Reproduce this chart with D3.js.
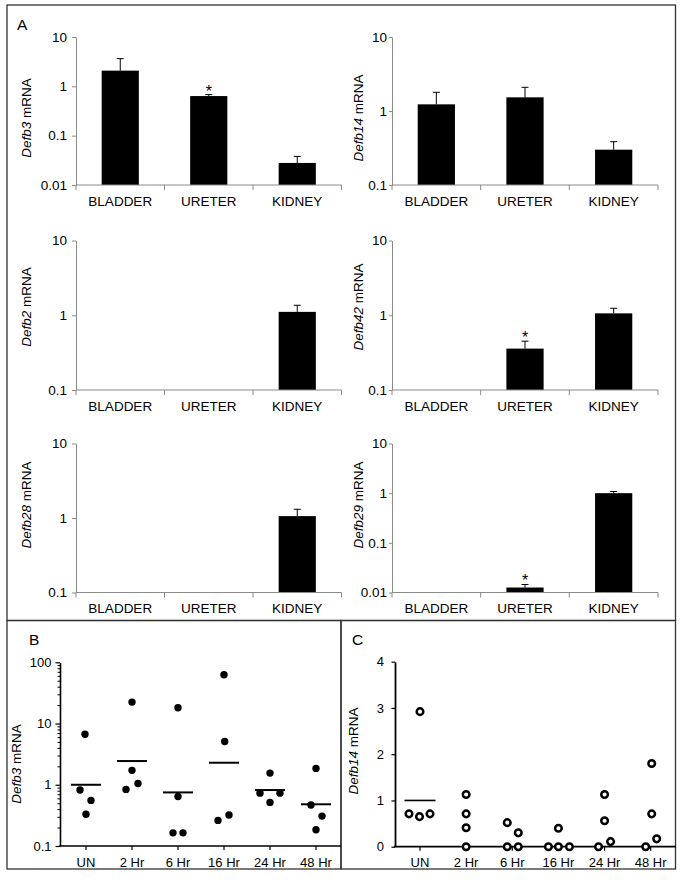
<!DOCTYPE html>
<html><head><meta charset="utf-8">
<script src="https://cdn.jsdelivr.net/npm/d3@7"></script>
<style>
body{margin:0;background:#fff}
svg{display:block}
text{font-family:"Liberation Sans",Arial,Helvetica,sans-serif;fill:#000}
</style>
</head><body>
<svg id="chart" width="683" height="884"></svg>
<script>
// ---------------- DATA ----------------
// Panel A: relative expression (log scale), mean and top of error bar
const categoriesA = ["BLADDER", "URETER", "KIDNEY"];
const genesA = ["Defb3", "Defb14", "Defb2", "Defb42", "Defb28", "Defb29"];
const meanA = [
  [2.08, 0.635, 0.028],
  [1.23, 1.53, 0.30],
  [null, null, 1.11],
  [null, 0.358, 1.06],
  [null, null, 1.06],
  [null, 0.0126, 1.0]
];
const errTopA = [
  [3.64, 0.68, 0.038],
  [1.79, 2.09, 0.385],
  [null, null, 1.36],
  [null, 0.45, 1.24],
  [null, null, 1.31],
  [null, 0.0145, 1.08]
];
const starA = [
  [0, 1, 0],
  [0, 0, 0],
  [0, 0, 0],
  [0, 1, 0],
  [0, 0, 0],
  [0, 1, 0]
];
const yMinA = [0.01, 0.1, 0.1, 0.1, 0.1, 0.01];
const yMaxA = 10;
const logTickLabels = {"0.01": "0.01", "0.1": "0.1", "1": "1", "10": "10", "100": "100"};

// Panel B / C: time course
const timepoints = ["UN", "2 Hr", "6 Hr", "16 Hr", "24 Hr", "48 Hr"];
const defb3B = [
  [6.7, 0.82, 0.556, 0.33],
  [22.4, 1.72, 0.84, 1.05],
  [18.1, 0.645, 0.164, 0.164],
  [62.7, 5.1, 0.262, 0.32],
  [1.55, 0.73, 0.73, 0.515],
  [1.85, 0.466, 0.308, 0.184]
];
const defb3BMean = [1.0, 2.44, 0.75, 2.29, 0.82, 0.48];
const ticksB = [0.1, 1, 10, 100];

const defb14C = [
  [2.92, 0.71, 0.65, 0.71],
  [1.13, 0.71, 0.41, 0],
  [0.52, 0.30, 0, 0],
  [0.40, 0, 0, 0],
  [1.13, 0.56, 0, 0.11],
  [1.80, 0.71, 0, 0.17]
];
const defb14CMean = [1.0, null, null, null, null, null];
const ticksC = [0, 1, 2, 3, 4];

// ---------------- LAYOUT ----------------
const svg = d3.select("#chart");
const FS = 13.5;
const GREY = "#8a8a8a";

// panel borders
const borderG = svg.append("g").attr("fill", "none").attr("stroke", "#333").attr("stroke-width", 1.3);
borderG.append("rect").attr("x", 7).attr("y", 5).attr("width", 668.5).attr("height", 615.5);
borderG.append("rect").attr("x", 7).attr("y", 620.5).attr("width", 334).attr("height", 248.5);
borderG.append("rect").attr("x", 341).attr("y", 620.5).attr("width", 334.5).attr("height", 248.5);

svg.append("text").attr("x", 17).attr("y", 30).attr("font-size", 15.5).text("A");
svg.append("text").attr("x", 29).attr("y", 645).attr("font-size", 15.5).text("B");
svg.append("text").attr("x", 352).attr("y", 645).attr("font-size", 15.5).text("C");

function yLabel(g, x, y, gene) {
  const t = g.append("text")
    .attr("transform", `translate(${x},${y}) rotate(-90)`)
    .attr("text-anchor", "middle").attr("font-size", FS);
  t.append("tspan").attr("font-style", "italic").text(gene);
  t.append("tspan").text(" mRNA");
}

// ---------------- PANEL A ----------------
const colX = [[76, 341.5], [392, 658]];
const rowY = [[37, 185], [240.5, 390], [443.5, 592.5]];
const labelX = [31, 363];
const labelY = [118, 307, 505];
const tickSizeCol = [4, 3];
const tickPadCol = [5, 2];

genesA.forEach((gene, i) => {
  const col = i % 2, row = Math.floor(i / 2);
  const [x0, x1] = colX[col];
  const [y0, y1] = rowY[row];
  const g = svg.append("g");
  const x = d3.scaleBand().domain(categoriesA).range([x0, x1]);
  const y = d3.scaleLog().domain([yMinA[i], yMaxA]).range([y1, y0]);
  const decades = [0.01, 0.1, 1, 10].filter(v => v >= yMinA[i] - 1e-9);

  // bars
  const barW = x.bandwidth() * 0.42;
  categoriesA.forEach((c, j) => {
    const m = meanA[i][j];
    if (m == null) return;
    const cx = x(c) + x.bandwidth() / 2;
    g.append("rect").attr("x", cx - barW / 2).attr("y", y(m))
      .attr("width", barW).attr("height", y1 - y(m)).attr("fill", "#000");
    const e = errTopA[i][j];
    g.append("line").attr("x1", cx).attr("x2", cx).attr("y1", y(m)).attr("y2", y(e))
      .attr("stroke", "#000").attr("stroke-width", 1);
    g.append("line").attr("x1", cx - 3.5).attr("x2", cx + 3.5).attr("y1", y(e)).attr("y2", y(e))
      .attr("stroke", "#000").attr("stroke-width", 1);
    if (starA[i][j]) {
      g.append("text").attr("x", cx).attr("y", y(e) + 2).attr("text-anchor", "middle")
        .attr("font-size", 16).text("*");
    }
  });

  // y axis
  const ya = g.append("g").attr("transform", `translate(${x0},0)`)
    .call(d3.axisLeft(y).tickValues(decades).tickFormat(d => logTickLabels[String(d)])
      .tickSize(tickSizeCol[col]).tickSizeOuter(0).tickPadding(tickPadCol[col]));
  ya.select(".domain").attr("stroke", GREY);
  ya.selectAll(".tick line").attr("stroke", GREY);
  ya.selectAll(".tick text").attr("font-size", FS).attr("font-family", null).attr("fill", "#000");

  // x axis
  g.append("line").attr("x1", x0).attr("x2", x1).attr("y1", y1).attr("y2", y1).attr("stroke", GREY);
  const bounds = categoriesA.map(c => x(c)).concat([x1]);
  bounds.forEach(b => {
    g.append("line").attr("x1", b).attr("x2", b).attr("y1", y1).attr("y2", y1 + 5).attr("stroke", GREY);
  });
  categoriesA.forEach(c => {
    g.append("text").attr("x", x(c) + x.bandwidth() / 2).attr("y", y1 + 20.5)
      .attr("text-anchor", "middle").attr("font-size", FS).text(c);
  });

  yLabel(g, labelX[col], labelY[row], gene);
});

// ---------------- PANEL B ----------------
(function () {
  const g = svg.append("g");
  const ax = 60, xEnd = 341, yb = 846, yt = 662.3;
  const x = d3.scalePoint().domain(timepoints).range([86, 316]);
  const y = d3.scaleLog().domain([0.1, 100]).range([yb, yt]);
  const offs = [[-1, -6, 5, 0], [0, 0, -6, 6], [0, 0, -5, 5], [0, 0.7, -6, 5], [0, -10, 10, 0], [0, -5, 6, 0]];

  // minor ticks
  const minor = [];
  [0.1, 1, 10].forEach(d => { for (let k = 2; k <= 9; k++) minor.push(k * d); });
  const ym = g.append("g").attr("transform", `translate(${ax},0)`)
    .call(d3.axisLeft(y).tickValues(minor).tickFormat("").tickSize(2.5).tickSizeOuter(0));
  ym.select(".domain").remove();
  ym.selectAll("line").attr("stroke", "#000").attr("stroke-width", 1);

  const ya = g.append("g").attr("transform", `translate(${ax},0)`)
    .call(d3.axisLeft(y).tickValues(ticksB).tickFormat(d => logTickLabels[String(d)])
      .tickSize(4.5).tickSizeOuter(0).tickPadding(4));
  ya.select(".domain").attr("stroke", "#000").attr("stroke-width", 1.6);
  ya.selectAll(".tick line").attr("stroke", "#000").attr("stroke-width", 1.2);
  ya.selectAll(".tick text").attr("font-size", 13).attr("font-family", null).attr("fill", "#000");

  g.append("line").attr("x1", ax - 0.8).attr("x2", xEnd).attr("y1", yb).attr("y2", yb)
    .attr("stroke", "#000").attr("stroke-width", 1.6);
  timepoints.forEach(t => {
    g.append("line").attr("x1", x(t)).attr("x2", x(t)).attr("y1", yb).attr("y2", yb + 4)
      .attr("stroke", "#000").attr("stroke-width", 1.2);
    g.append("text").attr("x", x(t)).attr("y", 867).attr("text-anchor", "middle")
      .attr("font-size", 13).text(t);
  });

  timepoints.forEach((t, i) => {
    defb3B[i].forEach((v, k) => {
      g.append("circle").attr("cx", x(t) + offs[i][k]).attr("cy", y(v)).attr("r", 3.7).attr("fill", "#000");
    });
    const m = defb3BMean[i];
    if (m != null) {
      g.append("line").attr("x1", x(t) - 15).attr("x2", x(t) + 15).attr("y1", y(m)).attr("y2", y(m))
        .attr("stroke", "#000").attr("stroke-width", 2);
    }
  });
  yLabel(g, 21, 764, "Defb3");
})();

// ---------------- PANEL C ----------------
(function () {
  const g = svg.append("g");
  const ax = 395, xEnd = 676, yb = 846.7, yt = 661.7;
  const x = d3.scalePoint().domain(timepoints).range([420, 650.7]);
  const y = d3.scaleLinear().domain([0, 4]).range([yb, yt]);
  const offs = [[0, -11, -0.5, 10], [0, 0, 0, 0], [-5, 6, -5, 6], [0, -10, 0, 11], [0, 0, -6, 6], [1, 1, -5, 6]];

  const ya = g.append("g").attr("transform", `translate(${ax},0)`)
    .call(d3.axisLeft(y).tickValues(ticksC).tickFormat(d3.format("d"))
      .tickSize(3.5).tickSizeOuter(0).tickPadding(7.5));
  ya.select(".domain").attr("stroke", "#000").attr("stroke-width", 1.8);
  ya.selectAll(".tick line").attr("stroke", "#000").attr("stroke-width", 1.2);
  ya.selectAll(".tick text").attr("font-size", 13).attr("font-family", null).attr("fill", "#000");

  g.append("line").attr("x1", ax - 0.9).attr("x2", xEnd).attr("y1", yb).attr("y2", yb)
    .attr("stroke", "#000").attr("stroke-width", 1.8);
  timepoints.forEach(t => {
    g.append("line").attr("x1", x(t)).attr("x2", x(t)).attr("y1", yb).attr("y2", yb + 4)
      .attr("stroke", "#000").attr("stroke-width", 1.2);
    g.append("text").attr("x", x(t)).attr("y", 867).attr("text-anchor", "middle")
      .attr("font-size", 13).text(t);
  });

  timepoints.forEach((t, i) => {
    const m = defb14CMean[i];
    if (m != null) {
      g.append("line").attr("x1", x(t) - 15.5).attr("x2", x(t) + 15.5).attr("y1", y(m)).attr("y2", y(m))
        .attr("stroke", "#000").attr("stroke-width", 1.6);
    }
    defb14C[i].forEach((v, k) => {
      g.append("circle").attr("cx", x(t) + offs[i][k]).attr("cy", y(v)).attr("r", 3.3)
        .attr("fill", "#fff").attr("stroke", "#000").attr("stroke-width", 2.5);
    });
  });
  yLabel(g, 358, 751, "Defb14");
})();
</script>
</body></html>
